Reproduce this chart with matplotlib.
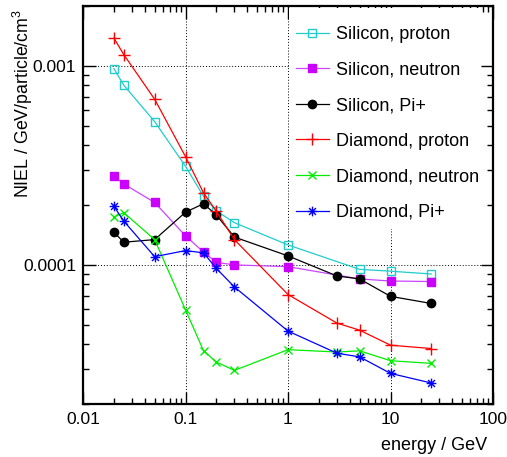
import numpy as np
import matplotlib
matplotlib.use("Agg")
import matplotlib.pyplot as plt
from matplotlib.path import Path
from matplotlib.patches import Rectangle
from matplotlib.ticker import FixedLocator, NullFormatter, FuncFormatter

plt.rcParams['font.family'] = ['Liberation Sans', 'DejaVu Sans']
plt.rcParams['mathtext.fontset'] = 'custom'
plt.rcParams['mathtext.rm'] = 'Liberation Sans'

# NIEL values vs. particle energy (GeV)
energy = [0.02, 0.025, 0.05, 0.1, 0.15, 0.2, 0.3, 1, 3, 5, 10, 25]
energy_si = [0.02, 0.025, 0.05, 0.1, 0.15, 0.2, 0.3, 1, 5, 10, 25]

si_proton = [9.7e-4, 8.0e-4, 5.25e-4, 3.13e-4, 2.21e-4, 1.87e-4, 1.63e-4,
             1.26e-4, 9.5e-5, 9.3e-5, 9.0e-5]
si_neutron = [2.79e-4, 2.55e-4, 2.06e-4, 1.40e-4, 1.16e-4, 1.03e-4, 1.0e-4,
              9.8e-5, 8.5e-5, 8.3e-5, 8.25e-5]
si_pion = [1.46e-4, 1.30e-4, 1.34e-4, 1.84e-4, 2.03e-4, 1.78e-4, 1.38e-4,
           1.11e-4, 8.8e-5, 8.5e-5, 6.95e-5, 6.4e-5]
dia_proton = [1.38e-3, 1.14e-3, 6.8e-4, 3.5e-4, 2.3e-4, 1.86e-4, 1.34e-4,
              7.1e-5, 5.1e-5, 4.7e-5, 3.95e-5, 3.8e-5]
dia_neutron = [1.74e-4, 1.83e-4, 1.34e-4, 5.95e-5, 3.7e-5, 3.25e-5, 2.95e-5,
               3.75e-5, 3.65e-5, 3.7e-5, 3.3e-5, 3.2e-5]
dia_pion = [1.97e-4, 1.66e-4, 1.10e-4, 1.18e-4, 1.15e-4, 9.6e-5, 7.75e-5,
            4.65e-5, 3.6e-5, 3.45e-5, 2.85e-5, 2.55e-5]

# 8-armed asterisk marker
s = 0.7071
star = Path([(-1, 0), (1, 0), (0, -1), (0, 1), (-s, -s), (s, s), (-s, s), (s, -s)],
            [Path.MOVETO, Path.LINETO] * 4)

fig = plt.figure(figsize=(5.07, 4.57), dpi=100)
ax = fig.add_axes([83 / 507, 53 / 457, 410 / 507, 398 / 457])

lw = 0.9
ax.plot(energy_si, si_proton, color='#22cccc', lw=lw, marker='s', ms=6,
        mfc='none', mec='#22cccc', mew=1.0, label='Silicon, proton')
ax.plot(energy_si, si_neutron, color='#cc44ff', lw=lw, marker='s', ms=6,
        mfc='#cc00ff', mec='#cc00ff', label='Silicon, neutron')
ax.plot(energy, si_pion, color='black', lw=lw, marker='o', ms=6,
        mfc='black', mec='black', label='Silicon, Pi+')
ax.plot(energy, dia_proton, color='#ff0000', lw=lw, marker='+', ms=8,
        mew=1.0, label='Diamond, proton')
ax.plot(energy, dia_neutron, color='#00ee00', lw=lw, marker='x', ms=6,
        mew=1.0, label='Diamond, neutron')
ax.plot(energy, dia_pion, color='#0000ff', lw=lw, marker=star, ms=7,
        mfc='none', mew=1.0, label='Diamond, Pi+')

ax.set_xscale('log')
ax.set_yscale('log')
ax.set_xlim(0.01, 100)
ax.set_ylim(2e-5, 2e-3)

ax.xaxis.set_major_locator(FixedLocator([0.01, 0.1, 1, 10, 100]))
ax.yaxis.set_major_locator(FixedLocator([1e-4, 1e-3]))
ax.xaxis.set_major_formatter(FuncFormatter(lambda v, p: '%g' % v))
ax.yaxis.set_major_formatter(FuncFormatter(lambda v, p: '%.4f' % v if v < 5e-4 else '%.3f' % v))
ax.xaxis.set_minor_formatter(NullFormatter())
ax.yaxis.set_minor_formatter(NullFormatter())

ax.tick_params(which='both', direction='in', top=True, right=True, labelsize=12.5)
ax.tick_params(which='major', length=9, width=1.0)
ax.tick_params(which='minor', length=4.5, width=1.0)
ax.tick_params(axis='x', pad=6)
ax.tick_params(axis='y', pad=5)
for sp in ax.spines.values():
    sp.set_linewidth(1.6)

ax.grid(True, which='major', linestyle=(0, (1, 2)), color='black', lw=0.7)

# white pad behind the legend hides the grid there
ax.add_patch(Rectangle((0.5024, 0.4397), 0.4683, 0.5553, transform=ax.transAxes,
                       facecolor='white', edgecolor='none', zorder=1.8))

leg = ax.legend(loc='upper left', bbox_to_anchor=(0.502, 0.968), fontsize=13,
                frameon=False, handlelength=1.8, handletextpad=0.4,
                labelspacing=1.03, borderpad=0.4, borderaxespad=0)

fig.text(487 / 507, 12 / 457, 'energy / GeV', ha='right', va='center',
         fontsize=13)
fig.text(23 / 507, 1 - 9 / 457, r'NIEL / GeV/particle/cm$^{3}$', rotation=90,
         ha='center', va='top', fontsize=12.8)

fig.savefig('out.png', dpi=100)
